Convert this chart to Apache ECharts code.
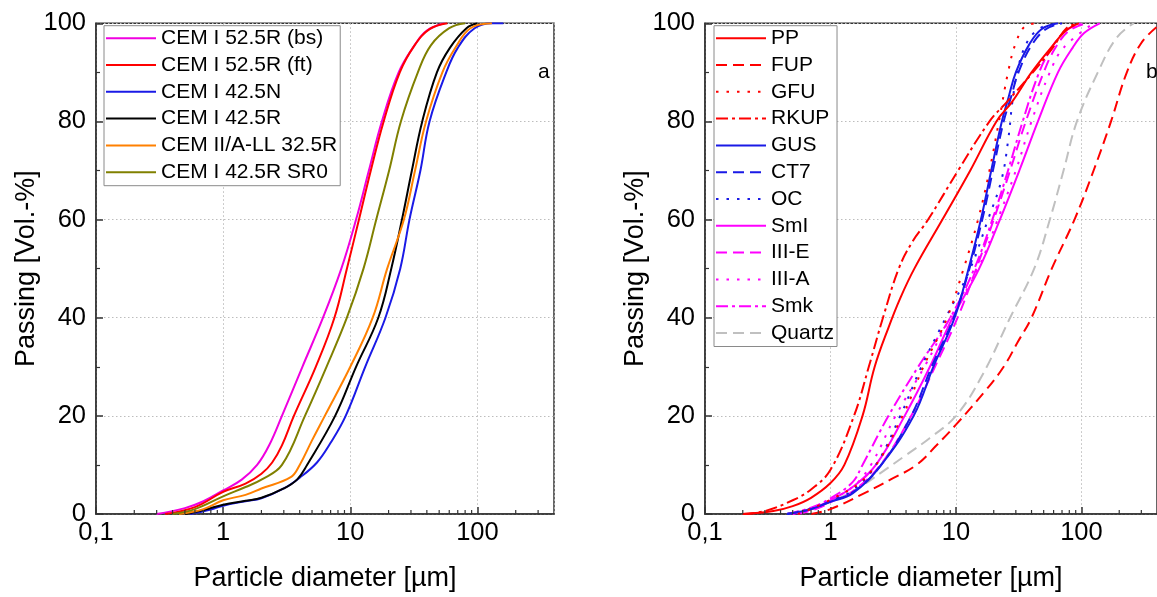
<!DOCTYPE html>
<html><head><meta charset="utf-8">
<script src="https://cdn.jsdelivr.net/npm/echarts@6/dist/echarts.min.js"></script>
<style>html,body{margin:0;padding:0;background:#fff}#c{width:1157px;height:597px}</style>
</head><body><div id="c"></div><script>
// ---------- data (particle diameter [µm], passing [Vol.-%]) ----------
// Panel a
const cemBs  = [[0.3,0],[0.5,1.2],[0.7,2.6],[1,4.8],[1.4,7],[1.85,10],[2.3,14],[2.9,20],[4.2,30],[6.1,40],[8.5,50],[11.1,60],[14,70],[17.7,80],[24,90],[32,95.5],[40,98.5],[55,100]];
const cemFt  = [[0.35,0],[0.6,1.4],[1,4.5],[1.5,6.2],[2,8.2],[2.43,10.5],[2.9,14],[3.6,20],[5.35,30],[7.5,40],[9.4,50],[11.7,60],[14.5,70],[18.3,80],[24.5,90],[32,95.5],[42,98.8],[58,100]];
const cemN   = [[0.55,0],[0.8,0.9],[1,1.7],[1.5,2.6],[2,3.2],[3,5.2],[4,7.4],[5.47,10.5],[7,14.5],[9.2,20],[13.1,30],[18.9,40],[24.7,50],[29.2,60],[35.6,70],[42,80],[56.8,90],[70,95],[95,99],[130,100],[160,100]];
const cemR   = [[0.5,0],[0.7,0.8],[1,1.9],[1.5,2.7],[2,3.3],[3,5.2],[3.81,7],[4.57,10],[7.6,20],[11.1,30],[16.6,40],[21,50],[25.5,60],[30.5,70],[36.8,80],[48,90],[60.7,95],[82,99],[100,100]];
const cemLL  = [[0.45,0],[0.7,1],[1,2.8],[1.5,3.9],[2,5.2],[3.4,7.5],[4,10],[5,15],[6.3,20],[10,30],[15,40],[19.5,50],[26.4,60],[32.3,70],[39.4,80],[53,90],[67,95],[88,99],[130,100]];
const cemSr0 = [[0.4,0],[0.6,1],[1,3.6],[1.5,5.5],[2,7],[2.9,10],[4.4,20],[6.5,30],[9.4,40],[12.7,50],[16,60],[20.2,70],[25,80],[34,90],[43,95.5],[60,99],[80,100]];
// Panel b
const pp     = [[0.2,0],[0.35,0.6],[0.5,1.6],[0.7,3.3],[1,6.3],[1.29,10],[1.8,20],[2.25,30],[2.9,38],[3.6,44],[4.66,50],[7.8,60],[13,70],[21,80],[28,84],[40,90],[57,95],[75,98.5],[95,100]];
const fup    = [[0.7,0],[1,1],[1.85,4.2],[3,7],[4.84,10],[7,14],[10,18.2],[17,25],[24,30],[31,35],[40,40],[58,50],[88,60],[125,70],[172,80],[230,90],[300,96],[400,99.3]];
const gfu    = [[0.55,0],[1,2.9],[2,8],[3.75,20],[5.5,30],[8.5,40],[11.5,50],[15,60],[18.5,70],[22,80],[26,90],[30,96],[36,99.5],[45,100]];
const rkup   = [[0.2,0],[0.3,0.6],[0.5,2.8],[0.7,5],[1,9],[1.54,20],[2.02,30],[2.62,40],[3.5,50],[4.5,55.5],[6,60],[10.4,70],[18.5,80],[25.5,84],[41,90],[59,95],[76,99],[95,100]];
const gus    = [[0.45,0],[0.7,1],[1,2.5],[1.5,4.2],[2.5,9.8],[4.6,20],[6.6,30],[9.75,40],[12.6,50],[15.8,60],[19.1,70],[23.2,80],[26.3,85],[30,90],[38,95.5],[48,98.8],[65,100]];
const ct7    = [[0.45,0],[0.7,1],[1,2.6],[1.5,4.4],[2.5,9.8],[4.4,20],[6.4,30],[9.6,40],[12.8,50],[16.2,60],[19.7,70],[24,80],[27.5,85],[31.5,90],[40,95.5],[52,98.8],[70,100]];
const oc     = [[0.45,0],[0.7,1.1],[1,2.7],[1.5,4.8],[2.3,10],[3.6,20],[5.3,30],[8.3,40],[13,50],[18,60],[23,68],[26,76],[28.5,85],[32,92],[40,97.5],[55,100]];
const smI    = [[0.5,0],[0.7,1],[1,2.8],[1.5,5.5],[2.3,10],[3.9,20],[6.2,30],[9.4,40],[15.3,50],[22.4,60],[32,70],[45,80],[65,90],[85,95],[105,98],[140,100]];
const iiiE   = [[0.55,0],[0.8,1.2],[1,2.4],[1.5,4.6],[2.5,10],[4.4,20],[6.8,30],[10.3,40],[14.5,50],[20,60],[27,70],[36,80],[50,90],[62,95],[80,98.5],[110,100]];
const iiiA   = [[0.5,0],[0.8,1.4],[1,2.9],[1.5,5.5],[2.1,10],[3.3,20],[5.6,30],[9,40],[15,50],[21.5,60],[30,70],[40,80],[56,90],[72,95],[125,100]];
const smk    = [[0.45,0],[0.7,1.3],[1,3.2],[1.5,6.5],[1.8,10],[2.9,20],[5,30],[9,40],[14,50],[19.5,60],[26,70],[34,80],[46,90],[58,95],[75,98.5],[100,100]];
const quartz = [[0.45,0],[0.7,1],[1,2.5],[1.6,5],[2.65,8.8],[4,12],[6.2,15.5],[10,20],[16,28],[27,40],[42,50],[56,60],[72,70],[92,80],[135,90],[190,97],[260,100]];

const legendA = ['CEM I 52.5R (bs)','CEM I 52.5R (ft)','CEM I 42.5N','CEM I 42.5R','CEM II/A-LL 32.5R','CEM I 42.5R SR0'];
const legendB = ['PP','FUP','GFU','RKUP','GUS','CT7','OC','SmI','III-E','III-A','Smk','Quartz'];
const minorTickValues = [0.2,0.3,0.4,0.5,0.6,0.7,0.8,0.9,2,3,4,5,6,7,8,9,20,30,40,50,60,70,80,90,200,300];
const xName = 'Particle diameter [µm]';
const yName = 'Passing [Vol.-%]';

// ---------- styling ----------
const FONT = "'Liberation Sans', Arial, Helvetica, sans-serif";
const AX = '#333';
const RED = '#ff0000', BLUE = '#1a1ae6', MAG = '#ff00ff', GRAY = '#c0c0c0';
const DASH = [11, 6], DOT = [2.5, 8], DASHDOT = [12, 4, 3, 4];

function xLabel(v) {
  const l = Math.log10(v);
  if (Math.abs(l - Math.round(l)) > 1e-6) return '';
  const r = Math.round(l);
  if (r === -1) return '0,1';
  return String(Math.round(Math.pow(10, r)));
}
function xAxis(gi) {
  return {
    type: 'log', logBase: 10, gridIndex: gi, min: 0.1, max: 400,
    name: xName, nameLocation: 'middle', nameGap: 51,
    nameTextStyle: { fontSize: 27, color: '#000', fontFamily: FONT },
    axisLine: { show: true, lineStyle: { color: AX, width: 1.5 } },
    axisTick: { show: true, inside: true, length: 7, lineStyle: { color: AX, width: 1.5 } },
    minorTick: { show: false },
    axisLabel: { fontSize: 25.5, color: '#000', fontFamily: FONT, margin: 6, formatter: xLabel, showMaxLabel: false },
    splitLine: { show: true, lineStyle: { type: [1.5, 2.5], color: '#bdbdbd', width: 1 } }
  };
}
function yAxis(gi) {
  return {
    type: 'value', gridIndex: gi, min: 0, max: 100, interval: 20,
    name: yName, nameLocation: 'middle', nameGap: 56,
    nameTextStyle: { fontSize: 27, color: '#000', fontFamily: FONT },
    axisLine: { show: true, lineStyle: { color: AX, width: 1.5 } },
    axisTick: { show: true, inside: true, length: 7, lineStyle: { color: AX, width: 1.5 } },
    minorTick: { show: true, splitNumber: 2, length: 4, lineStyle: { color: AX, width: 1.2 } },
    axisLabel: { fontSize: 25.5, color: '#000', fontFamily: FONT, margin: 10 },
    splitLine: { show: true, lineStyle: { type: [1.5, 2.5], color: '#bdbdbd', width: 1 } }
  };
}
function line(name, gi, data, color, type) {
  return {
    type: 'line', name, xAxisIndex: gi, yAxisIndex: gi, data,
    symbol: 'none', showSymbol: false, smooth: 0.4,
    lineStyle: { color, width: 2, type: type || 'solid' },
    itemStyle: { color }, emphasis: { disabled: true }, animation: false, z: 3
  };
}
function minorTicks(gi) {
  return {
    type: 'custom', xAxisIndex: gi, yAxisIndex: gi, silent: true, clip: false, z: 6, animation: false,
    data: minorTickValues.map(v => [v, 0]),
    renderItem: (p, api) => {
      const pt = api.coord([api.value(0), 0]);
      return { type: 'line', shape: { x1: pt[0], y1: pt[1], x2: pt[0], y2: pt[1] - 4 }, style: { stroke: AX, lineWidth: 1.2 } };
    }
  };
}
function legend(left, names) {
  return {
    orient: 'vertical', left, top: 25.7, data: names, selectedMode: false,
    itemWidth: 50, itemHeight: 14, itemGap: 5.8, padding: [2, 3, 3, 1],
    borderColor: '#8a8a8a', borderWidth: 1, backgroundColor: '#fff',
    itemStyle: { color: 'rgba(0,0,0,0)', borderColor: 'rgba(0,0,0,0)', borderWidth: 0, opacity: 0 },
    textStyle: { fontSize: 21, lineHeight: 21, color: '#000', fontFamily: FONT }
  };
}

const option = {
  backgroundColor: '#fff',
  animation: false,
  grid: [
    { left: 96, top: 23.3, width: 458, height: 497.4, show: true, borderColor: AX, borderWidth: 1.5 },
    { left: 705, top: 23.3, width: 459.5, height: 497.4, show: true, borderColor: AX, borderWidth: 1.5 }
  ],
  xAxis: [xAxis(0), xAxis(1)],
  yAxis: [yAxis(0), yAxis(1)],
  legend: [legend(104, legendA), legend(714, legendB)],
  graphic: [
    { type: 'text', style: { x: 538, y: 72.7, text: 'a', font: '21px ' + FONT, fill: '#000', textVerticalAlign: 'middle' } },
    { type: 'text', style: { x: 1146, y: 72.7, text: 'b', font: '21px ' + FONT, fill: '#000', textVerticalAlign: 'middle' } }
  ],
  series: [
    line(legendA[0], 0, cemBs, '#f000e0'),
    line(legendA[1], 0, cemFt, RED),
    line(legendA[2], 0, cemN, BLUE),
    line(legendA[3], 0, cemR, '#000000'),
    line(legendA[4], 0, cemLL, '#ff8000'),
    line(legendA[5], 0, cemSr0, '#808000'),
    line('Quartz', 1, quartz, GRAY, DASH),
    line('FUP', 1, fup, RED, DASH),
    line('SmI', 1, smI, MAG),
    line('III-E', 1, iiiE, MAG, DASH),
    line('III-A', 1, iiiA, MAG, DOT),
    line('Smk', 1, smk, MAG, DASHDOT),
    line('GUS', 1, gus, BLUE),
    line('CT7', 1, ct7, BLUE, DASH),
    line('OC', 1, oc, BLUE, DOT),
    line('GFU', 1, gfu, RED, DOT),
    line('PP', 1, pp, RED),
    line('RKUP', 1, rkup, RED, DASHDOT),
    minorTicks(0), minorTicks(1)
  ]
};
const chart = echarts.init(document.getElementById('c'), null, { renderer: 'canvas' });
chart.setOption(option);
</script></body></html>
